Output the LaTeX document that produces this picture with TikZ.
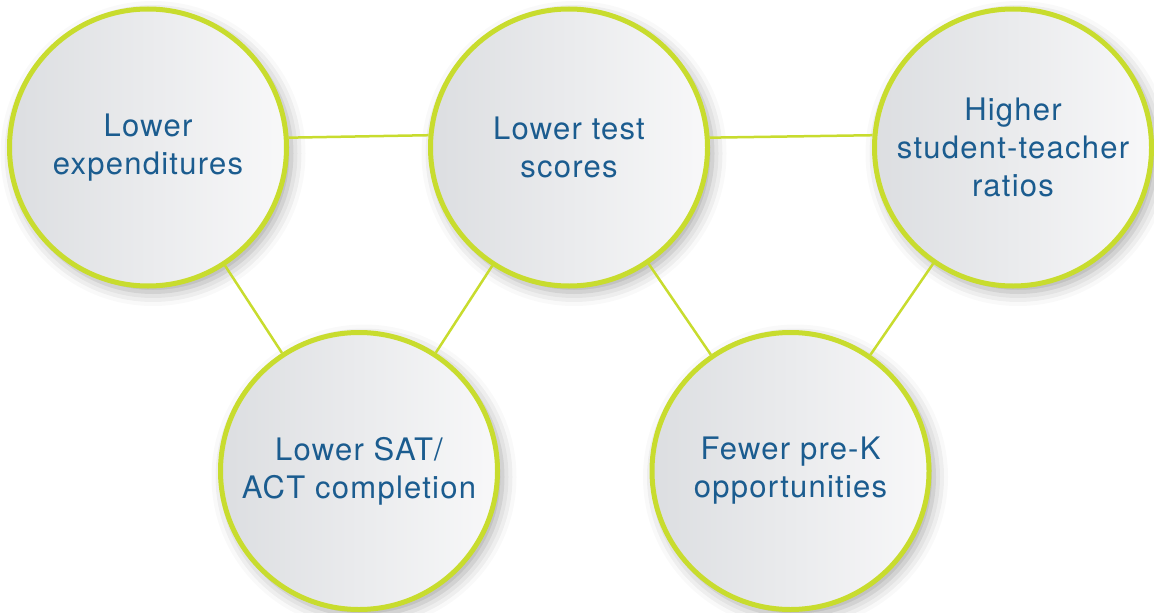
\documentclass[tikz,border=0pt]{standalone}
\usepackage{fontspec}
\setmainfont{TeX Gyre Heros}[LetterSpace=4]
\usetikzlibrary{shadows.blur}
\definecolor{ringgreen}{HTML}{C8DC2E}
\definecolor{textblue}{HTML}{1B5C8F}
\definecolor{discleft}{HTML}{DCDEE1}
\definecolor{discright}{HTML}{F8F8F9}
\tikzset{
  disc/.style={circle, draw=ringgreen, line width=5pt, minimum size=277pt,
    inner sep=0pt, left color=discleft, right color=discright,
    text=textblue, align=center, font=\fontsize{31}{38}\selectfont,
    blur shadow={shadow xshift=5pt, shadow yshift=-6pt,
      shadow blur radius=14pt, shadow opacity=35}},
  link/.style={draw=ringgreen, line width=2.5pt}
}
\begin{document}
\begin{tikzpicture}[x=1pt, y=-1pt]
  \useasboundingbox (0,0) rectangle (1154,613);
  % top row
  \node[disc] (exp)   at (148,147.5)  {Lower\\expenditures};
  \node[disc] (test)  at (569,147.5)  {Lower test\\scores};
  \node[disc] (ratio) at (1013,147.5) {Higher\\student-teacher\\ratios};
  % bottom row
  \node[disc] (sat)   at (359,471)    {Lower SAT/\\ACT completion};
  \node[disc] (prek)  at (790.5,471)  {Fewer pre-K\\opportunities};
  % connectors: the top ones run a little above the centres
  \draw[link] (exp.4.8) -- (test.175.2);
  \draw[link] (test.4.8) -- (ratio.175.2);
  \draw[link] (exp) -- (sat);
  \draw[link] (test) -- (sat);
  \draw[link] (test) -- (prek);
  \draw[link] (ratio) -- (prek);
\end{tikzpicture}
\end{document}
